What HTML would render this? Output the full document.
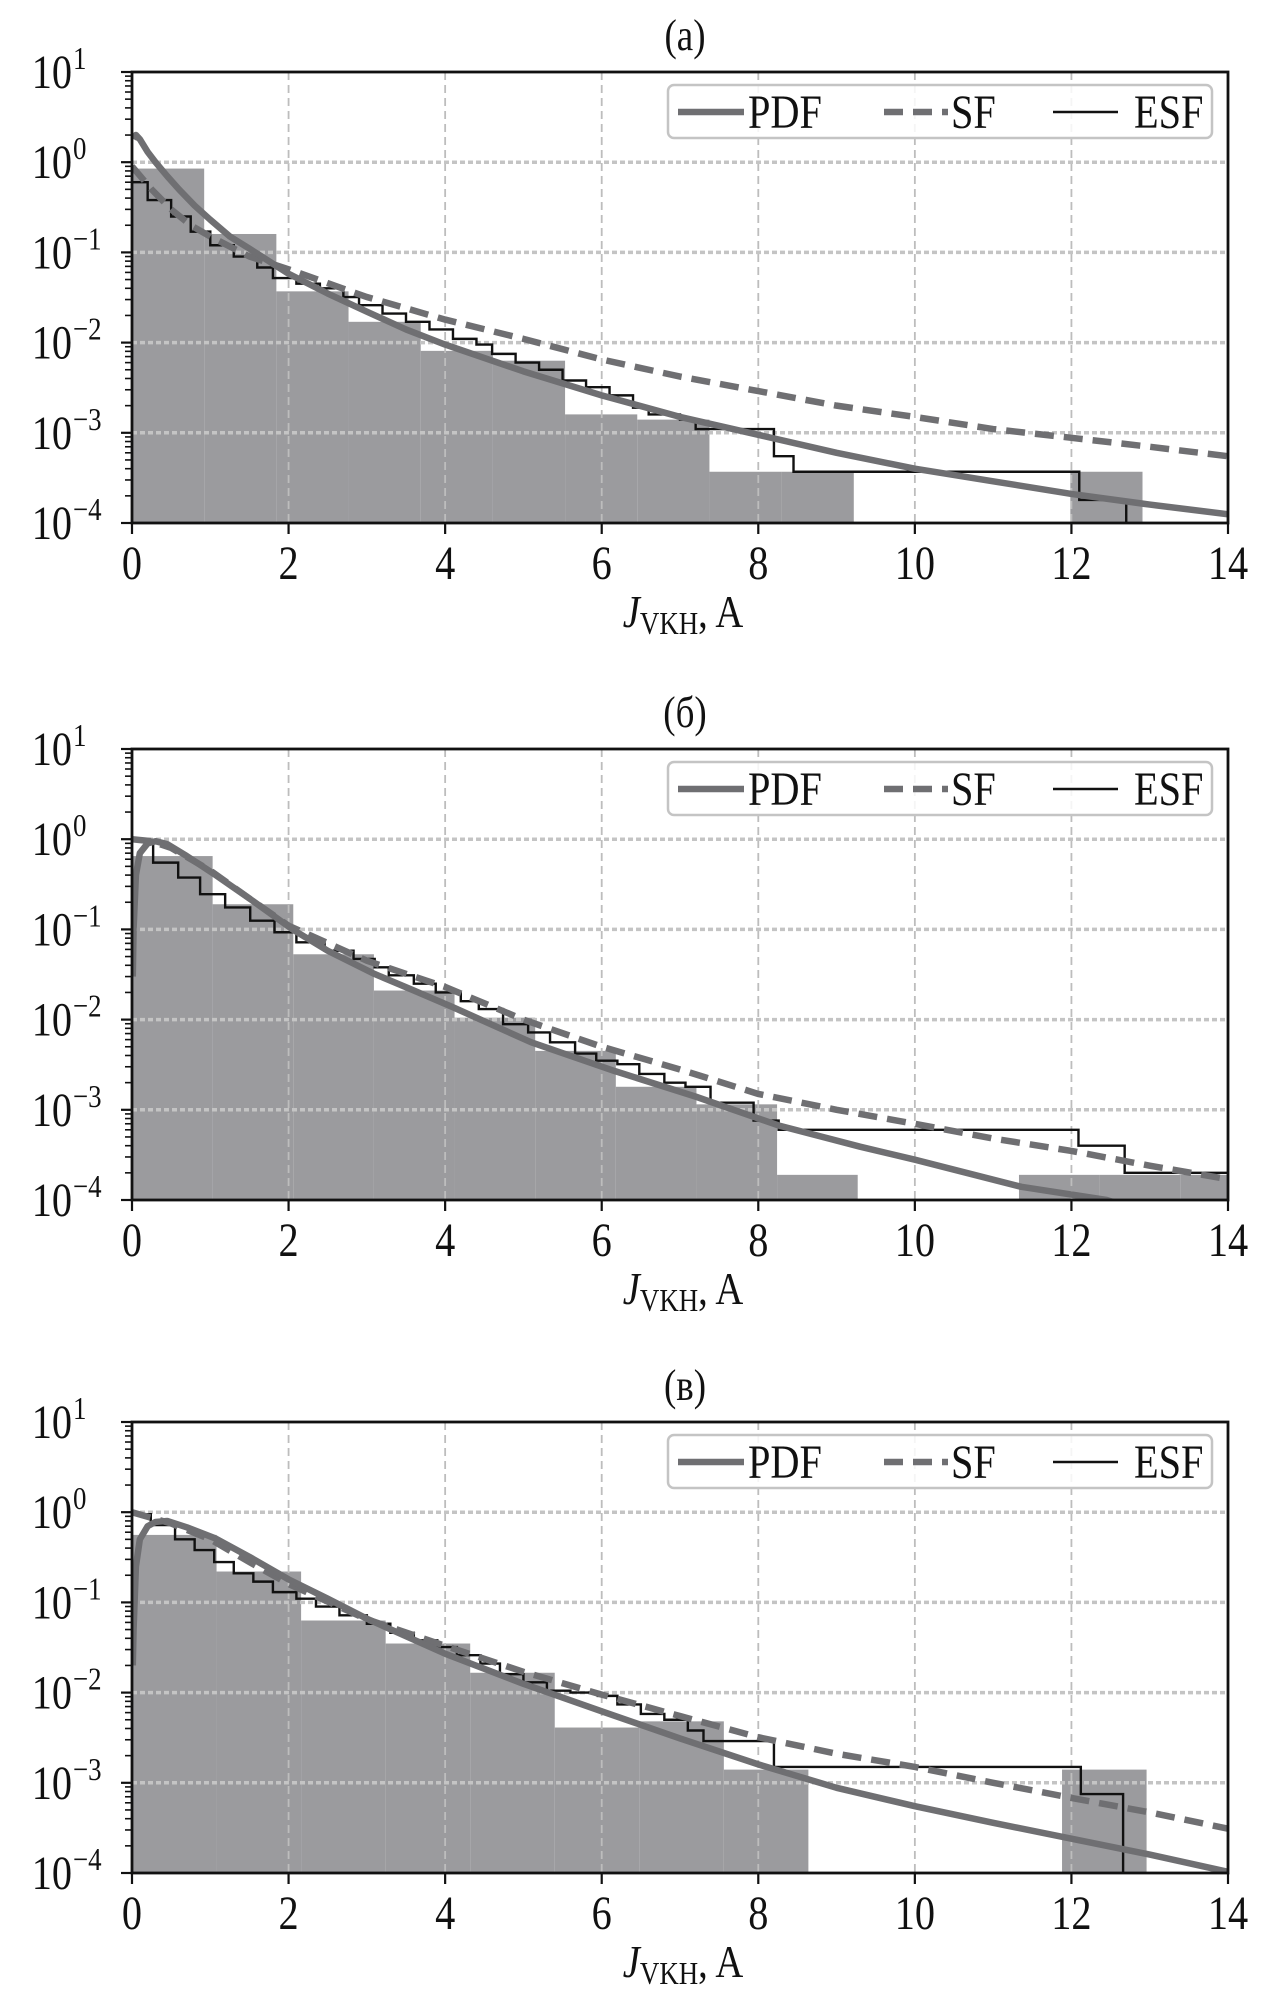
<!DOCTYPE html>
<html><head><meta charset="utf-8">
<style>
html,body{margin:0;padding:0;background:#fff;}
svg{display:block;}
text{font-family:"Liberation Serif",serif;fill:#111;}
</style></head>
<body>
<svg id="fig" width="1275" height="2011" viewBox="0 0 1275 2011" xmlns="http://www.w3.org/2000/svg"></svg>
<script>
// ---------- Panel (a) data ----------
const binEdgesA = [0,0.922,1.844,2.766,3.688,4.61,5.532,6.454,7.376,8.298,9.22,10.142,11.064,11.986,12.908];
const binHeightsA = [0.85,0.16,0.037,0.017,0.0081,0.0063,0.0016,0.0014,0.00037,0.00037,0,0,0,0.00037];
const esfXA = [0,0.2,0.5,0.75,1.0,1.3,1.6,1.8,2.1,2.4,2.7,2.9,3.2,3.5,3.8,4.1,4.4,4.6,4.9,5.2,5.5,5.8,6.1,6.4,6.6,7.0,7.2,8.2,8.45,12.1,12.7];
const esfYA = [0.6,0.38,0.25,0.17,0.12,0.09,0.068,0.052,0.045,0.04,0.032,0.026,0.021,0.017,0.014,0.011,0.0095,0.0075,0.006,0.005,0.0038,0.0032,0.0026,0.0019,0.0016,0.0014,0.0011,0.00055,0.00037,0.00018,0.0001];
const pdfXA = [0.02,0.05,0.1,0.2,0.3,0.45,0.6,0.8,1,1.25,1.5,2,2.5,3,3.5,4,5,6,7,8,9,10,11,12,13,14];
const pdfYA = [1.8,2.0,1.8,1.3,1.0,0.7,0.5,0.33,0.23,0.15,0.11,0.058,0.035,0.022,0.014,0.0095,0.0048,0.0026,0.0015,0.00095,0.0006,0.0004,0.00029,0.00021,0.00016,0.000125];
const sfXA = [0,0.25,0.5,0.75,1,1.5,2,3,4,5,6,7,8,9,10,11,12,13,14];
const sfYA = [0.9,0.5,0.3,0.2,0.15,0.09,0.065,0.032,0.018,0.011,0.0065,0.0042,0.0029,0.002,0.0015,0.0011,0.00088,0.0007,0.00055];

// ---------- Panel (б) data ----------
const binEdgesB = [0,1.03,2.06,3.09,4.12,5.15,6.18,7.21,8.24,9.27,10.3,11.33,12.36,13.39,14];
const binHeightsB = [0.65,0.19,0.053,0.021,0.0105,0.0045,0.0018,0.00115,0.00019,0,0,0.00019,0.00019,0.00019];
const esfXB = [0,0.27,0.59,0.87,1.19,1.51,1.82,2.1,2.46,2.83,3.1,3.28,3.6,3.88,4.2,4.43,4.74,5.06,5.34,5.66,5.93,6.2,6.48,6.8,7.07,7.39,7.94,8.26,12.09,12.68];
const esfYB = [0.98,0.55,0.376,0.246,0.175,0.125,0.093,0.072,0.058,0.047,0.038,0.031,0.025,0.02,0.016,0.0131,0.0089,0.0072,0.0056,0.0042,0.0035,0.0032,0.0025,0.002,0.0018,0.0012,0.00076,0.0006,0.0004,0.0002];
const pdfXB = [0.01,0.02,0.05,0.1,0.2,0.3,0.45,0.7,1.05,1.5,2.05,2.5,3.1,3.6,4.1,5.1,6.16,7.2,8.26,9.3,10,11.36,12.45,13,14];
const pdfYB = [0.03,0.1,0.4,0.7,0.9,0.95,0.88,0.65,0.41,0.22,0.1,0.058,0.032,0.021,0.0137,0.0056,0.0027,0.0014,0.00067,0.00039,0.00028,0.00014,0.0001,0.00007,0.000045];
const sfXB = [0,0.25,0.5,1,1.5,2,3,4,5,6,7,8,9,10,11,12,13,14];
const sfYB = [1.0,0.95,0.8,0.45,0.22,0.11,0.045,0.023,0.01,0.005,0.0028,0.0015,0.001,0.0007,0.00048,0.00035,0.00024,0.00017];

// ---------- Panel (в) data ----------
const binEdgesC = [0,1.08,2.16,3.24,4.32,5.4,6.48,7.56,8.64,9.72,10.8,11.88,12.96];
const binHeightsC = [0.56,0.22,0.063,0.035,0.0166,0.0041,0.0048,0.0014,0,0,0,0.0014];
const esfXC = [0,0.24,0.55,0.8,1.05,1.3,1.55,1.8,2.1,2.35,2.65,3.0,3.3,3.6,3.9,4.15,4.45,4.7,5.0,5.3,5.6,5.95,6.2,6.5,6.8,7.1,7.3,8.2,12.12,12.66];
const esfYC = [0.95,0.72,0.5,0.38,0.28,0.21,0.17,0.13,0.11,0.09,0.072,0.058,0.046,0.038,0.032,0.026,0.021,0.016,0.013,0.0105,0.01,0.0092,0.0074,0.0058,0.005,0.0038,0.0029,0.0015,0.00075,0.0001];
const pdfXC = [0.01,0.02,0.05,0.1,0.2,0.3,0.45,0.7,1.07,1.5,2,2.5,3,4,5,6,7,8,9,10,11,12,13,14];
const pdfYC = [0.02,0.05,0.25,0.5,0.7,0.78,0.8,0.68,0.51,0.32,0.18,0.11,0.066,0.027,0.0125,0.0062,0.0031,0.0016,0.00088,0.00055,0.00036,0.00024,0.00016,0.000103];
const sfXC = [0,0.5,1,1.5,2,3,4,5,6,7,8,9,10,11,12,13,14];
const sfYC = [1.0,0.75,0.5,0.28,0.16,0.065,0.033,0.017,0.0095,0.0055,0.0032,0.0021,0.0015,0.001,0.00068,0.00047,0.00031];

// ---------- Axes ticks ----------
const xTicks = [0,2,4,6,8,10,12,14];
const yExps = [1,0,-1,-2,-3,-4];
const panelTitles = ["(a)","(б)","(в)"];

const NS = "http://www.w3.org/2000/svg";
const svg = document.getElementById("fig");
const L = 132, R = 1228, H = 451;
const tops = [72, 749, 1422];
function mk(tag, attrs, parent){ const e=document.createElementNS(NS,tag); for(const k in attrs) e.setAttribute(k,attrs[k]); (parent||svg).appendChild(e); return e; }
function xs(x){ return L + x*(R-L)/14; }
function yScale(top){ return v => top + (1 - Math.log10(v))*H/5; }
function txt(parent, x, y, s, size, anchor, style){
  const t = mk("text",{x:0,y:0,"font-size":size,"text-anchor":anchor||"start",transform:`translate(${x},${y}) scale(0.84,1)`},parent);
  if(style) t.setAttribute("font-style",style);
  t.textContent = s; return t;
}

const panels = [
  {edges:binEdgesA,heights:binHeightsA,esfX:esfXA,esfY:esfYA,pdfX:pdfXA,pdfY:pdfYA,sfX:sfXA,sfY:sfYA,name:"a"},
  {edges:binEdgesB,heights:binHeightsB,esfX:esfXB,esfY:esfYB,pdfX:pdfXB,pdfY:pdfYB,sfX:sfXB,sfY:sfYB,name:"b"},
  {edges:binEdgesC,heights:binHeightsC,esfX:esfXC,esfY:esfYC,pdfX:pdfXC,pdfY:pdfYC,sfX:sfXC,sfY:sfYC,name:"c"}
];

const defs = mk("defs",{});
panels.forEach((p,i)=>{
  const top = tops[i], bot = top+H, ys = yScale(top);
  const cp = mk("clipPath",{id:"clip"+i},defs);
  mk("rect",{x:L,y:top,width:R-L,height:H},cp);
  const g = mk("g",{});
  
  

  const title = txt(g,(L+R)/2+5,top-22,panelTitles[i],44,"middle");
  
  

  const plot = mk("g",{"clip-path":`url(#clip${i})`},g);
  p.heights.forEach((h,k)=>{
    if(h<=0) return;
    const x0 = xs(p.edges[k]), x1 = xs(p.edges[k+1]!==undefined?p.edges[k+1]:14);
    const r = mk("rect",{x:x0,y:ys(h),width:x1-x0,height:bot-ys(h),fill:"#9b9b9e"},plot);
    
    
  });
  xTicks.slice(1,-1).forEach(t=>{
    const l = mk("line",{x1:xs(t),x2:xs(t),y1:top,y2:bot,stroke:"#bdbdbd","stroke-width":1.8,"stroke-dasharray":"8,5"},plot);
    
    
  });
  yExps.slice(1,-1).forEach(e=>{
    const l = mk("line",{x1:L,x2:R,y1:ys(Math.pow(10,e)),y2:ys(Math.pow(10,e)),stroke:"#c4c4c4","stroke-width":3.5,"stroke-dasharray":"5,3"},plot);
    
    
  });
  let d = "";
  p.esfX.forEach((x,k)=>{
    const y = ys(p.esfY[k]);
    const nx = k+1<p.esfX.length ? p.esfX[k+1] : (p.esfY[k]<=0.0001 ? x : 14);
    d += (k===0?`M${xs(x)},${y}`:`L${xs(x)},${y}`) + ` L${xs(nx)},${y}`;
  });
  if(p.esfY[p.esfY.length-1]<=0.0001) d += ` L${xs(p.esfX[p.esfX.length-1])},${bot}`;
  const esf = mk("path",{d:d,fill:"none",stroke:"#111","stroke-width":2.4},plot);
  
  
  const sf = mk("polyline",{points:p.sfX.map((x,k)=>`${xs(x)},${ys(p.sfY[k])}`).join(" "),fill:"none",stroke:"#6f6f72","stroke-width":6.5,"stroke-dasharray":"19,10"},plot);
  
  
  const pdf = mk("polyline",{points:p.pdfX.map((x,k)=>`${xs(x)},${ys(p.pdfY[k])}`).join(" "),fill:"none",stroke:"#6f6f72","stroke-width":6.5,"stroke-linejoin":"round"},plot);
  
  

  const fr = mk("rect",{x:L,y:top,width:R-L,height:H,fill:"none",stroke:"#111","stroke-width":2.8},g);
  
  

  xTicks.forEach(t=>{
    mk("line",{x1:xs(t),x2:xs(t),y1:bot,y2:bot+11,stroke:"#111","stroke-width":2.2},g);
    const lb = txt(g,xs(t),bot+56,String(t),48,"middle");
    
    
  });
  yExps.forEach(e=>{
    const y = ys(Math.pow(10,e));
    mk("line",{x1:L-11,x2:L,y1:y,y2:y,stroke:"#111","stroke-width":2.2},g);
    if(e>-4){ for(let m=2;m<=9;m++){ const ym = ys(m*Math.pow(10,e-1)); mk("line",{x1:L-7,x2:L,y1:ym,y2:ym,stroke:"#111","stroke-width":1.6},g);} }
    const lb = txt(g,72,y+16,"10",48,"end");
    
    
    const sp = txt(g,73,y-3,e<0?"\u2212"+(-e):String(e),32,"start");
    
    
  });
  const xl = mk("text",{x:0,y:0,"font-size":46,"text-anchor":"middle",transform:`translate(${683},${bot+104}) scale(0.84,1)`},g);
  
  
  const t1 = mk("tspan",{"font-style":"italic"},xl); t1.textContent="J";
  const t2 = mk("tspan",{"font-size":32,dy:7},xl); t2.textContent="VKH";
  const t3 = mk("tspan",{dy:-7},xl); t3.textContent=", A";

  const lg = mk("g",{},g);
  
  
  mk("rect",{x:668,y:top+13,width:544,height:53,rx:6,fill:"#fff","fill-opacity":0.85,stroke:"#c4c4c4","stroke-width":2.5},lg);
  const ly = top+40;
  const e1 = mk("line",{x1:678,x2:744,y1:ly,y2:ly,stroke:"#6f6f72","stroke-width":6.5},lg);
  
  
  const l1 = txt(lg,748,ly+16,"PDF",48,"start");
  
  
  const e2 = mk("line",{x1:884,x2:948,y1:ly,y2:ly,stroke:"#6f6f72","stroke-width":6.5,"stroke-dasharray":"19,10"},lg);
  
  
  const l2 = txt(lg,951,ly+16,"SF",48,"start");
  
  
  const e3 = mk("line",{x1:1053,x2:1118,y1:ly,y2:ly,stroke:"#111","stroke-width":2.4},lg);
  
  
  const l3 = txt(lg,1134,ly+16,"ESF",48,"start");
  
  
});
</script>
</body></html>
